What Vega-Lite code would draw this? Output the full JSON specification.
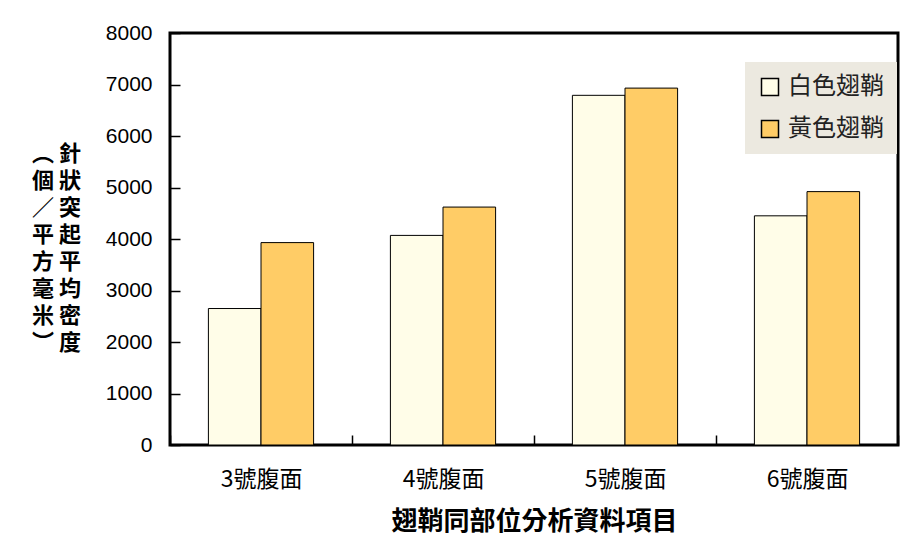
{
  "$schema": "https://vega.github.io/schema/vega-lite/v6.json",
  "width": 728,
  "height": 412,
  "autosize": {"type": "none"},
  "padding": {"left": 170, "top": 33, "right": 18, "bottom": 109},
  "background": "white",
  "config": {
    "view": {"stroke": "black", "strokeWidth": 3},
    "font": "Noto Sans CJK TC"
  },
  "data": {
    "values": [
      {"part": "3號腹面", "series": "白色翅鞘", "value": 2650},
      {"part": "3號腹面", "series": "黃色翅鞘", "value": 3930},
      {"part": "4號腹面", "series": "白色翅鞘", "value": 4070},
      {"part": "4號腹面", "series": "黃色翅鞘", "value": 4620},
      {"part": "5號腹面", "series": "白色翅鞘", "value": 6790},
      {"part": "5號腹面", "series": "黃色翅鞘", "value": 6930},
      {"part": "6號腹面", "series": "白色翅鞘", "value": 4450},
      {"part": "6號腹面", "series": "黃色翅鞘", "value": 4920}
    ]
  },
  "mark": {"type": "bar", "stroke": "black", "strokeWidth": 1},
  "encoding": {
    "x": {
      "field": "part",
      "type": "nominal",
      "sort": null,
      "scale": {"paddingInner": 0, "paddingOuter": 0},
      "axis": {
        "title": "翅鞘同部位分析資料項目",
        "titleFont": "Noto Sans CJK TC",
        "titleFontSize": 26,
        "titleFontWeight": "bold",
        "titleColor": "black",
        "titlePadding": 17,
        "labelAngle": 0,
        "labelFont": "Noto Sans CJK TC",
        "labelFontSize": 23,
        "labelColor": "black",
        "labelPadding": 33,
        "tickBand": "extent",
        "tickSize": -10,
        "tickWidth": 1.5,
        "tickColor": "black",
        "domain": false
      }
    },
    "xOffset": {
      "field": "series",
      "type": "nominal",
      "scale": {"paddingInner": 0, "paddingOuter": 0.73}
    },
    "y": {
      "field": "value",
      "type": "quantitative",
      "scale": {"domain": [0, 8000]},
      "axis": {
        "values": [0, 1000, 2000, 3000, 4000, 5000, 6000, 7000, 8000],
        "format": "d",
        "title": ["︵ 針", "個 狀", "／ 突", "平 起", "方 平", "毫 均", "米 密", "︶ 度"],
        "titleAngle": 0,
        "titleAlign": "center",
        "titleBaseline": "middle",
        "titleFont": "Noto Sans CJK TC",
        "titleFontSize": 22,
        "titleFontWeight": "bold",
        "titleLineHeight": 27,
        "titleColor": "black",
        "titleX": -114,
        "titleY": 120,
        "labelFont": "Liberation Sans",
        "labelFontSize": 21,
        "labelColor": "black",
        "labelPadding": 28,
        "tickSize": -10,
        "tickWidth": 1.5,
        "tickColor": "black",
        "grid": false,
        "domain": false
      }
    },
    "fill": {
      "field": "series",
      "type": "nominal",
      "scale": {"range": ["#FFFDE8", "#FFCC66"]},
      "legend": {
        "title": null,
        "orient": "none",
        "legendX": 575,
        "legendY": 29,
        "fillColor": "#ECE9E0",
        "padding": 13,
        "symbolType": "square",
        "symbolSize": 289,
        "symbolStrokeColor": "black",
        "symbolStrokeWidth": 1.5,
        "labelFont": "Noto Sans CJK TC",
        "labelFontSize": 24,
        "labelColor": "#222",
        "rowPadding": 18,
        "labelOffset": 6
      }
    }
  }
}
